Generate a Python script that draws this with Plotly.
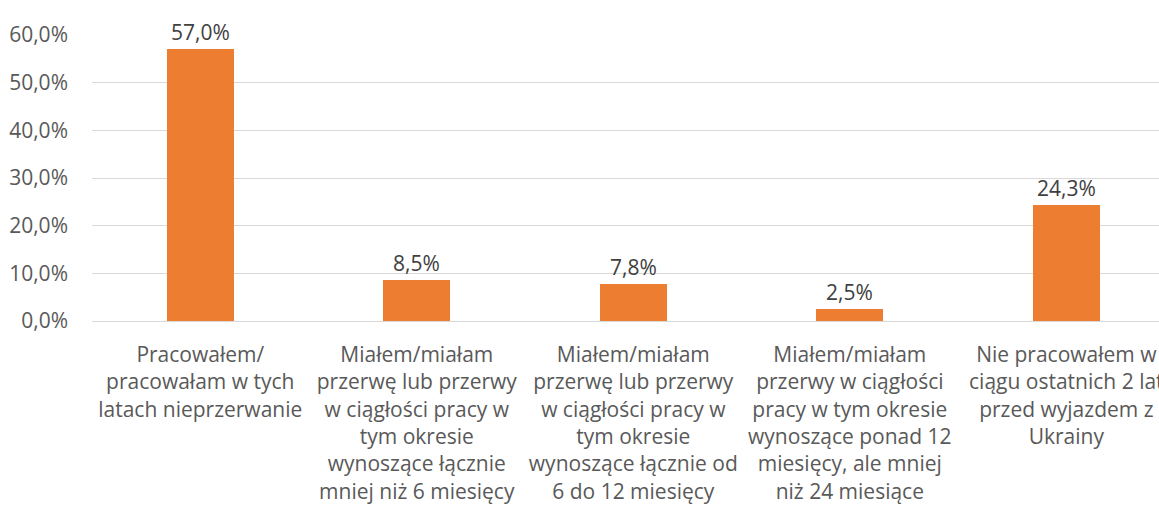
import plotly.graph_objects as go

categories = [
    "Pracowałem/<br>pracowałam w tych<br>latach nieprzerwanie",
    "Miałem/miałam<br>przerwę lub przerwy<br>w ciągłości pracy w<br>tym okresie<br>wynoszące łącznie<br>mniej niż 6 miesięcy",
    "Miałem/miałam<br>przerwę lub przerwy<br>w ciągłości pracy w<br>tym okresie<br>wynoszące łącznie od<br>6 do 12 miesięcy",
    "Miałem/miałam<br>przerwy w ciągłości<br>pracy w tym okresie<br>wynoszące ponad 12<br>miesięcy, ale mniej<br>niż 24 miesiące",
    "Nie pracowałem w<br>ciągu ostatnich 2 lat<br>przed wyjazdem z<br>Ukrainy",
]
values = [0.570, 0.085, 0.078, 0.025, 0.243]
y_ticks = [0, 0.1, 0.2, 0.3, 0.4, 0.5, 0.6]

FONT = "Open Sans"
FS = 21
x_idx = list(range(len(categories)))

fig = go.Figure(
    go.Bar(
        x=x_idx,
        y=values,
        width=0.31,
        marker=dict(color="#ED7D31", line=dict(width=0)),
        texttemplate="%{y:.1%}",
        textposition="outside",
        textfont=dict(family=FONT, size=FS, color="#404040"),
        cliponaxis=False,
    )
)

fig.update_layout(
    width=1159,
    height=509,
    margin=dict(l=92, r=0, t=35, b=188, autoexpand=False),
    paper_bgcolor="white",
    plot_bgcolor="white",
    separators=", ",
    showlegend=False,
    font=dict(family=FONT, size=FS, color="#595959"),
    bargap=0,
)
fig.update_xaxes(
    range=[-0.5, 4.428],
    tickmode="array",
    tickvals=x_idx,
    ticktext=categories,
    showgrid=False,
    zeroline=False,
    showline=False,
    ticks="",
    tickangle=0,
    automargin=False,
    ticklabeloverflow="allow",
    ticklabelstandoff=19,
    tickfont=dict(family=FONT, size=FS, color="#595959"),
)
fig.update_yaxes(
    range=[0, 0.6],
    tickmode="array",
    tickvals=y_ticks,
    tickformat=".1%",
    showgrid=True,
    gridcolor="#D9D9D9",
    gridwidth=1,
    zeroline=True,
    zerolinecolor="#D9D9D9",
    zerolinewidth=1,
    showline=False,
    ticks="",
    automargin=False,
    ticklabelstandoff=23,
    tickfont=dict(family=FONT, size=FS, color="#595959"),
)

fig.write_html(
    "out.html",
    config={"displayModeBar": False},
    post_script="document.body.style.margin='0';document.body.style.overflow='hidden';",
)
